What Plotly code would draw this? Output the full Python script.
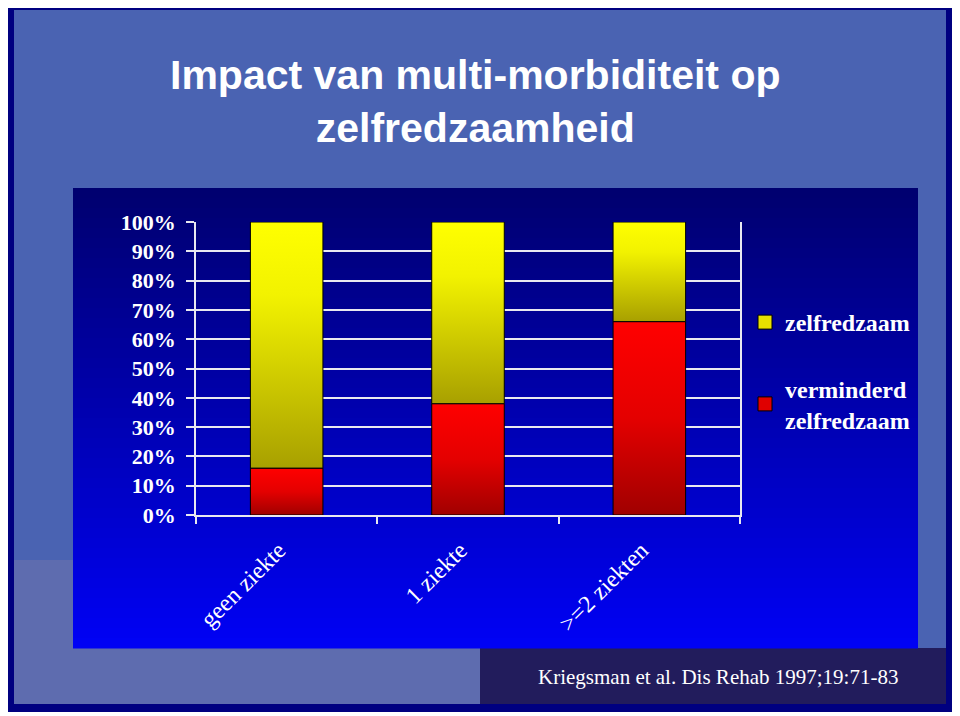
import plotly.graph_objects as go

# data
categories = ['geen ziekte', '1 ziekte', '>=2 ziekten']
verminderd = [16, 38, 66]      # % verminderd zelfredzaam
zelfredzaam = [84, 62, 34]     # % zelfredzaam
y_ticks = list(range(0, 101, 10))
y_labels = ['%d%%' % v for v in y_ticks]

OFF = 8                       # page body margin
W, H = 960 - OFF, 716 - OFF   # figure size
L, R, T, B = 196, 740, 222, 515   # plot area, page pixels


def px(x, y):
    # page pixel -> paper coords of the plot area
    return (x - L) / (R - L), (B - y) / (B - T)


def rect(x0, y0, x1, y1, color):
    a, b = px(x0, y0)
    c, d = px(x1, y1)
    return dict(type='rect', xref='paper', yref='paper', x0=a, y0=d, x1=c, y1=b,
                fillcolor=color, line=dict(width=0), layer='below')


shapes = [
    rect(0, 0, 957, 712, '#000080'),
    rect(14, 10, 946, 704, '#4a63b2'),
    rect(14, 560, 500, 704, 'rgba(120,120,170,0.45)'),
    rect(480, 648, 946, 704, '#221c5c'),
]
# gradient of the chart box
n = 46
top, bot = (0, 0, 112), (0, 2, 244)
for i in range(n):
    f = i / (n - 1)
    c = tuple(int(top[k] + (bot[k] - top[k]) * f) for k in range(3))
    y0 = 188 + (648 - 188) * i / n
    y1 = 188 + (648 - 188) * (i + 1) / n + 0.6
    shapes.append(rect(73, y0, 918, y1, 'rgb(%d,%d,%d)' % c))

fig = go.Figure()

half = 0.2
for i, cat in enumerate(categories):
    segs = [
        (0, verminderd[i], [[0, '#a00000'], [0.5, '#e40000'], [1, '#ff0000']]),
        (verminderd[i], verminderd[i] + zelfredzaam[i],
         [[0, '#a8a000'], [0.7, '#f2f200'], [1, '#ffff00']]),
    ]
    for y0, y1, cs in segs:
        fig.add_trace(go.Scatter(
            x=[i - half, i + half, i + half, i - half, i - half],
            y=[y0, y0, y1, y1, y0],
            mode='lines', fill='toself',
            fillgradient=dict(type='vertical', colorscale=cs, start=y0, stop=y1),
            line=dict(color='black', width=1),
            showlegend=False, hoverinfo='skip'
        ))

# legend entries
fig.add_trace(go.Scatter(
    x=[None], y=[None], mode='markers', name='zelfredzaam',
    marker=dict(symbol='square', size=14, color='#e8e000', line=dict(color='black', width=1)),
    legendgroup='a'
))
fig.add_trace(go.Scatter(
    x=[None], y=[None], mode='markers', name='verminderd<br>zelfredzaam',
    marker=dict(symbol='square', size=14, color='#e00000', line=dict(color='black', width=1)),
    legendgroup='b'
))

serif = 'Liberation Serif, Times New Roman, serif'

fig.update_layout(
    width=W, height=H,
    margin=dict(l=L - OFF, r=W - (R - OFF), t=T - OFF, b=H - (B - OFF), autoexpand=False),
    paper_bgcolor='white',
    plot_bgcolor='rgba(0,0,0,0)',
    shapes=shapes,
    showlegend=True,
    legend=dict(
        xref='container', yref='container',
        x=(745 - OFF) / W, y=1 - (300 - OFF) / H,
        xanchor='left', yanchor='top',
        font=dict(family=serif, size=24, color='white', weight='bold'),
        bgcolor='rgba(0,0,0,0)', tracegroupgap=32, itemwidth=30
    ),
    annotations=[
        dict(text='Impact van multi-morbiditeit op<br>zelfredzaamheid',
             xref='paper', yref='paper', x=px(475, 0)[0], y=px(0, 101)[1],
             xanchor='center', yanchor='middle', showarrow=False,
             font=dict(family='Liberation Sans, Arial, sans-serif',
                       size=41, color='white', weight='bold')),
        dict(text='Kriegsman et al. Dis Rehab 1997;19:71-83',
             xref='paper', yref='paper', x=px(718, 0)[0], y=px(0, 677)[1],
             xanchor='center', yanchor='middle', showarrow=False,
             font=dict(family=serif, size=21, color='white')),
    ],
)

fig.update_yaxes(
    range=[0, 100], tickvals=y_ticks, ticktext=y_labels,
    showgrid=True, gridcolor='#e8e8f0', gridwidth=1.5,
    showline=True, mirror=True, linecolor='#e8e8f0', linewidth=1.5,
    ticks='outside', ticklen=8, tickcolor='#e8e8f0', tickwidth=1.5,
    ticklabelstandoff=6, zeroline=False,
    tickfont=dict(family=serif, size=22, color='white', weight='bold'),
)
fig.update_xaxes(
    range=[-0.5, len(categories) - 0.5],
    tickvals=list(range(len(categories))), ticktext=categories,
    tickangle=-45, ticks='', showgrid=False, zeroline=False,
    showline=True, linecolor='#e8e8f0', linewidth=1.5,
    minor=dict(tick0=-0.5, dtick=1, ticks='outside', ticklen=7,
               tickcolor='#e8e8f0', tickwidth=1.5, showgrid=False),
    ticklabelstandoff=10, ticklabelshift=-8,
    tickfont=dict(family=serif, size=24, color='white'),
)

fig.write_html("out.html")
